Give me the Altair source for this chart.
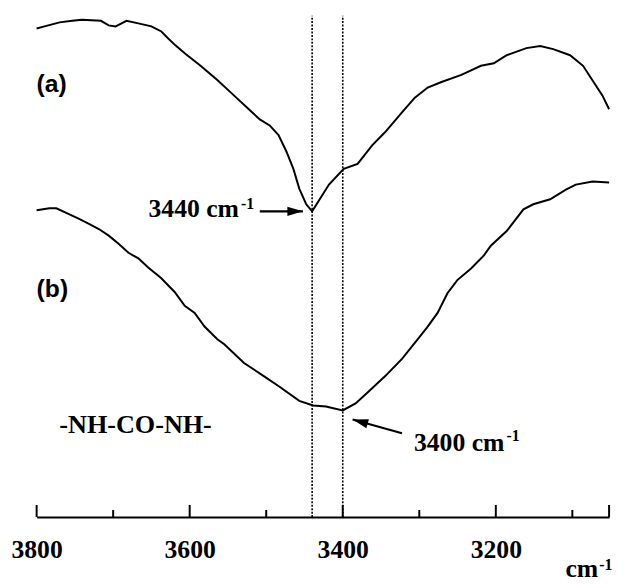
import altair as alt
import pandas as pd

# ---- spectrum (a): wavenumber (cm-1) and transmittance (a.u.) ----
a_wn = [3800, 3789.7, 3770, 3753.5, 3740.6, 3716, 3705.8, 3696.8, 3689, 3682.6,
        3667, 3650, 3637, 3628, 3619, 3606.5, 3585.8, 3563.9, 3541.9, 3521.3,
        3508.4, 3495.5, 3483.9, 3473.5, 3464.5, 3456.8, 3447.7, 3440, 3418,
        3398.7, 3380.6, 3361.3, 3344.5, 3322.6, 3305.8, 3289, 3271, 3245,
        3219.4, 3202.6, 3185.8, 3160, 3142, 3125, 3103, 3086, 3069.7, 3060.6, 3052]
a_t = [96.7, 97.1, 97.9, 98.2, 98.4, 98.2, 97.3, 97.1, 97.7, 98.2,
       97.7, 97.1, 96.1, 94.7, 93.4, 91.8, 89.3, 86.5, 83.4, 80.5,
       78.7, 77.5, 75.6, 72.3, 68.9, 65.0, 61.9, 60.5, 65.8,
       68.9, 69.9, 73.6, 76.2, 80.1, 83.0, 85.0, 86.1, 87.5,
       89.3, 89.8, 91.4, 92.8, 93.2, 92.6, 91.4, 89.3, 85.5, 83.4, 80.7]

# ---- spectrum (b) ----
b_wn = [3800, 3783.2, 3774.2, 3761.3, 3744.5, 3731.6, 3718.7, 3705.8, 3692.9, 3680,
        3667.1, 3654.2, 3637.4, 3619.4, 3606.5, 3593.5, 3580.6, 3563.9, 3554.8, 3529,
        3503.2, 3482.6, 3456.8, 3438.7, 3421.9, 3400, 3383.2, 3366.5, 3344.5, 3322.6,
        3301.9, 3289, 3276.1, 3263.2, 3250.3, 3232.3, 3215.5, 3206.5, 3185.8, 3163.9,
        3151, 3129, 3108.4, 3095.5, 3073.5, 3052]
b_t = [60.7, 61.1, 61.1, 60.2, 59.0, 58.0, 57.0, 55.7, 54.1, 52.3,
       51.2, 49.4, 47.3, 44.5, 41.8, 40.4, 37.7, 35.2, 34.2, 30.5,
       27.9, 25.8, 23.0, 22.1, 21.9, 21.1, 22.5, 24.8, 27.9, 31.3,
       35.2, 37.7, 40.4, 44.3, 46.9, 49.2, 51.8, 53.7, 56.6, 60.9,
       61.9, 62.9, 64.8, 65.8, 66.4, 66.2]

# ---- axis / reference lines ----
tick_labels = [3800, 3600, 3400, 3200]
major_ticks = [3800, 3600, 3400, 3200, 3052]
minor_ticks = [3700, 3500, 3300, 3100]
ref_lines = [3440, 3400]

X_DOMAIN = [3052, 3800]
Y_DOMAIN = [0, 100]

SERIF = "Times New Roman, Liberation Serif, serif"
SANS = "Arial, Liberation Sans, Helvetica, sans-serif"

spectra = pd.DataFrame({
    "wn": a_wn + b_wn,
    "t": a_t + b_t,
    "series": ["a"] * len(a_wn) + ["b"] * len(b_wn),
})

xs = alt.Scale(domain=X_DOMAIN, reverse=True, nice=False, zero=False)
ys = alt.Scale(domain=Y_DOMAIN, nice=False, zero=False)

base_x = alt.X("wn:Q", scale=xs,
               axis=alt.Axis(values=tick_labels, ticks=False, grid=False, title=None,
                             domainColor="black", domainWidth=2,
                             labelFont=SERIF, labelFontWeight="bold",
                             labelFontSize=26, labelColor="black", labelPadding=20,
                             format="d", labelFlush=False))

lines = alt.Chart(spectra).mark_line(color="black", strokeWidth=2).encode(
    x=base_x,
    y=alt.Y("t:Q", scale=ys, axis=None),
    detail="series:N",
)

ticks_df = pd.DataFrame({
    "wn": major_ticks + minor_ticks,
    "y0": [0] * (len(major_ticks) + len(minor_ticks)),
    "y1": [2.4] * len(major_ticks) + [1.4] * len(minor_ticks),
})
ticks = alt.Chart(ticks_df).mark_rule(color="black", strokeWidth=2).encode(
    x=alt.X("wn:Q", scale=xs), y=alt.Y("y0:Q", scale=ys), y2="y1:Q")

ref_df = pd.DataFrame({"wn": ref_lines, "y0": [0, 0], "y1": [99.2, 99.2]})
refs = alt.Chart(ref_df).mark_rule(color="black", strokeWidth=1.6, strokeDash=[2, 1.5]).encode(
    x=alt.X("wn:Q", scale=xs), y=alt.Y("y0:Q", scale=ys), y2="y1:Q")

# ---- annotations ----
sans_df = pd.DataFrame({"wn": [3800, 3800], "t": [84.2, 43.6], "label": ["(a)", "(b)"]})
sans = alt.Chart(sans_df).mark_text(font=SANS, fontWeight="bold", fontSize=25,
                                     align="left", baseline="alphabetic", color="black").encode(
    x=alt.X("wn:Q", scale=xs), y=alt.Y("t:Q", scale=ys), text="label:N")

group_df = pd.DataFrame({"wn": [3770.3], "t": [16.6], "label": ["-NH-CO-NH-"]})
group = alt.Chart(group_df).mark_text(font=SERIF, fontWeight="bold", fontSize=26.5,
                                       align="left", baseline="alphabetic", color="black").encode(
    x=alt.X("wn:Q", scale=xs), y=alt.Y("t:Q", scale=ys), text="label:N")

# peak labels / axis unit, right-aligned where "cm" ends
unit_df = pd.DataFrame({
    "wn": [3535.6, 3188.7, 3066.2],
    "t": [59.4, 13.1, -11.9],
    "label": ["3440 cm", "3400 cm", "cm"],
})
unit_txt = alt.Chart(unit_df).mark_text(font=SERIF, fontWeight="bold", fontSize=26,
                                         align="right", baseline="alphabetic", color="black").encode(
    x=alt.X("wn:Q", scale=xs), y=alt.Y("t:Q", scale=ys), text="label:N")

sup_df = pd.DataFrame({
    "wn": [3533.0, 3186.1, 3064.9],
    "t": [60.9, 15.0, -10.4],
    "label": ["-1", "-1", "-1"],
})
sup = alt.Chart(sup_df).mark_text(font=SERIF, fontWeight="bold", fontSize=16,
                                   align="left", baseline="alphabetic", color="black").encode(
    x=alt.X("wn:Q", scale=xs), y=alt.Y("t:Q", scale=ys), text="label:N")

arrow_df = pd.DataFrame({
    "x0": [3508.4, 3322.6], "y0": [60.5, 16.6],
    "x1": [3452.0, 3387.1], "y1": [60.5, 19.3],
    "ang": [0, 195.6],
})
shafts = alt.Chart(arrow_df).mark_rule(color="black", strokeWidth=2.2).encode(
    x=alt.X("x0:Q", scale=xs), x2="x1:Q", y=alt.Y("y0:Q", scale=ys), y2="y1:Q")
heads = alt.Chart(arrow_df).mark_point(shape="M0,0 L-1,-0.3 L-1,0.3 Z", filled=True,
                                        color="black", opacity=1, size=1000).encode(
    x=alt.X("x1:Q", scale=xs), y=alt.Y("y1:Q", scale=ys), angle=alt.Angle("ang:Q", scale=None))

chart = alt.layer(lines, ticks, refs, sans, group, unit_txt, sup, shafts, heads).properties(
    width=580, height=512,
    background="white",
    padding={"left": 29, "top": 0, "right": 6, "bottom": 64},
    autosize=alt.AutoSizeParams(type="none"),
).configure_view(strokeWidth=0)

chart.save("out.html", embed_options={"renderer": "svg", "actions": False})
